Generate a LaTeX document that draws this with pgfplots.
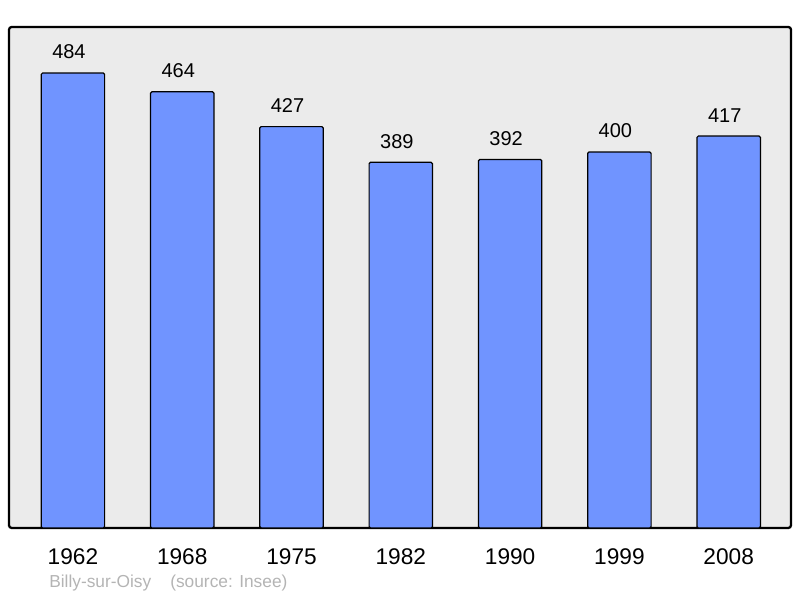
\documentclass[border=0pt]{standalone}
\usepackage{fontspec}
\setmainfont{Liberation Sans}
\usepackage{pgfplots}
\pgfplotsset{compat=1.18}
\definecolor{barblue}{HTML}{7094FF}
\definecolor{bggray}{HTML}{EBEBEB}
\definecolor{srcgray}{HTML}{B4B4B4}

\begin{document}
\begin{tikzpicture}
\useasboundingbox (-6.75pt,-52.5pt) rectangle (593.25pt,396pt);
\begin{axis}[
    at={(0,0)}, anchor=south west,
    scale only axis,
    width=586.5pt, height=375.75pt,
    ybar, bar width=0.58, bar shift=0pt,
    xmin=-0.585, xmax=6.57,
    ymin=0, ymax=533,
    xtick=data,
    xticklabels={1962,1968,1975,1982,1990,1999,2008},
    ytick=\empty,
    major tick length=0pt,
    /pgf/number format/assume math mode=true,
    xticklabel style={font=\fontsize{17pt}{17pt}\selectfont, anchor=north, inner sep=0pt, yshift=-15pt},
    axis background/.style={fill=bggray},
    axis line style={line width=1.7pt, rounded corners=2pt},
    nodes near coords,
    every node near coord/.append style={font=\fontsize{15pt}{15pt}\selectfont, anchor=south, inner sep=0pt, xshift=-3pt, yshift=10pt},
]
\addplot[fill=barblue, draw=black, line width=0.9pt, rounded corners=1pt] coordinates {
    (0,484) (1,464) (2,427) (3,389) (4,392) (5,400) (6,417)
};
\end{axis}
\node[anchor=west, inner sep=0pt, text=srcgray, font=\fontsize{13pt}{13pt}\selectfont] at (30pt,-41.25pt) {Billy-sur-Oisy};
\node[anchor=west, inner sep=0pt, text=srcgray, font=\fontsize{13pt}{13pt}\selectfont] at (120.75pt,-41.25pt) {(source: Insee)};
\end{tikzpicture}
\end{document}
